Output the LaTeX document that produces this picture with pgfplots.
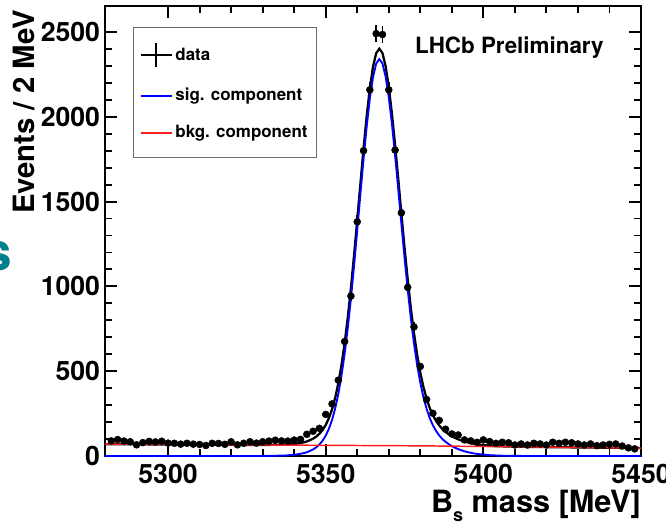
\documentclass[border=0pt]{standalone}
\usepackage{fontspec}
\setmainfont{TeX Gyre Heros}
\usepackage{pgfplots}
\usepackage{pgfplotstable}
\pgfplotsset{compat=1.18}

\definecolor{rootblue}{RGB}{0,0,255}
\definecolor{rootred}{RGB}{255,30,30}
\definecolor{legframe}{RGB}{110,110,110}
\definecolor{slideteal}{RGB}{0,128,140}

% binned data: bin centre, entries, error
\pgfplotstableread{
m n e
5282 89 9.4
5284 97 9.8
5286 88 9.4
5288 84 9.2
5290 66 8.1
5292 79 8.9
5294 86 9.3
5296 83 9.1
5298 87 9.3
5300 76 8.7
5302 75 8.7
5304 70 8.4
5306 75 8.7
5308 70 8.4
5310 68 8.2
5312 62 7.9
5314 75 8.7
5316 74 8.6
5318 69 8.3
5320 84 9.2
5322 66 8.1
5324 75 8.7
5326 84 9.2
5328 76 8.7
5330 84 9.2
5332 88 9.4
5334 93 9.6
5336 89 9.4
5338 88 9.4
5340 94 9.7
5342 98 9.9
5344 128 11.3
5346 146 12.1
5348 163 12.8
5350 245 15.7
5352 307 17.5
5354 447 21.1
5356 675 26.0
5358 943 30.7
5360 1381 37.2
5362 1800 42.4
5364 2159 46.5
5366 2490 50.0
5368 2485 50.0
5370 2159 46.5
5372 1804 42.5
5374 1434 37.9
5376 994 31.5
5378 761 27.6
5380 528 23.0
5382 333 18.2
5384 252 15.9
5386 210 14.5
5388 158 12.6
5390 130 11.4
5392 124 11.1
5394 95 9.7
5396 89 9.4
5398 81 9.0
5400 95 9.7
5402 85 9.2
5404 75 8.7
5406 81 9.0
5408 78 8.8
5410 65 8.1
5412 71 8.4
5414 65 8.1
5416 75 8.7
5418 71 8.4
5420 65 8.1
5422 81 9.0
5424 75 8.7
5426 81 9.0
5428 78 8.8
5430 71 8.4
5432 65 8.1
5434 71 8.4
5436 61 7.8
5438 65 8.1
5440 69 8.3
5442 71 8.4
5444 59 7.7
5446 48 6.9
5448 42 6.5
}\bsdata

% signal component
\pgfplotstableread{
m s
5280 0
5327 0
5332 0.6
5337 3
5340 7
5342 13
5343 17
5344 22
5345 30
5346 39
5347 51
5348 68
5349 90
5350 120
5351 160
5352 212
5353 280
5354 366
5355 473
5356 602
5357 755
5358 929
5359 1123
5360 1331
5361 1543
5362 1751
5363 1943
5364 2107
5365 2233
5366 2313
5367 2340
5368 2314
5369 2237
5370 2116
5371 1958
5372 1774
5373 1574
5374 1369
5375 1169
5376 982
5377 812
5378 664
5379 537
5380 432
5381 346
5382 278
5383 223
5384 181
5385 148
5386 121
5387 100
5388 84
5389 70
5390 58
5391 49
5392 41
5393 34
5394 28
5395 23
5397 15
5399 10
5402 5
5405 2.3
5409 0.8
5414 0.2
5420 0
5450 0
}\sigcurve

% total fit
\pgfplotstableread{
m t
5280 70
5300 68
5320 66
5327 65.3
5332 65.4
5337 67.3
5340 71
5342 76.8
5343 80.7
5344 85.6
5345 93.5
5346 102.4
5347 114.3
5348 131.2
5349 153.1
5350 183
5351 222.9
5352 274.8
5353 342.7
5354 428.6
5355 535.5
5356 664.4
5357 817.3
5358 991.2
5359 1185.1
5360 1393
5361 1604.9
5362 1812.8
5363 2004.7
5364 2168.6
5365 2294.5
5366 2374.4
5367 2401.3
5368 2375.2
5369 2298.1
5370 2177
5371 2018.9
5372 1834.8
5373 1634.7
5374 1429.6
5375 1229.5
5376 1042.4
5377 872.3
5378 724.2
5379 597.1
5380 492
5381 405.8
5382 337.6
5383 282.4
5384 240.2
5385 207
5386 179.9
5387 158.7
5388 142.5
5389 128.3
5390 116.1
5391 106.9
5392 98.7
5393 91.5
5394 85.3
5395 80.2
5397 71.8
5399 66.4
5402 60.8
5405 57.6
5409 55.3
5414 53.7
5420 52.4
5430 50.5
5440 48.6
5450 46.7
}\totcurve

% background component
\pgfplotstableread{
m b
5280 70
5330 65
5380 60
5400 56.2
5420 52.4
5450 46.7
}\bkgcurve

\begin{document}
\begin{tikzpicture}
\begin{axis}[
    name=ax,
    scale only axis,
    width=402pt, height=337.5pt,
    xmin=5280, xmax=5450,
    ymin=0, ymax=2653,
    xtick={5300,5350,5400,5450},
    ytick={0,500,1000,1500,2000,2500},
    minor x tick num=4,
    minor y tick num=4,
    tick align=inside,
    major tick length=9pt,
    minor tick length=5pt,
    axis line style={line width=1.5pt},
    every tick/.style={black, line width=1.4pt},
    scaled ticks=false,
    /pgf/number format/assume math mode=true,
    /pgf/number format/1000 sep={},
    tick label style={font=\bfseries\fontsize{20}{22}\selectfont, inner sep=1pt},
    xticklabel style={yshift=-5pt},
    yticklabel style={xshift=-2.5pt},
    xlabel={B\raisebox{-0.3em}{\fontsize{13.5}{13.5}\selectfont s} mass [MeV]},
    xlabel style={at={(axis description cs:1,-0.126)}, anchor=base east,
                  inner sep=0pt, font=\bfseries\fontsize{23}{25}\selectfont},
    ylabel={Events / 2 MeV},
    ylabel style={at={(axis description cs:-0.1306,0.991)}, anchor=south east,
                  inner sep=0pt, font=\bfseries\fontsize{22}{26}\selectfont},
    legend cell align=left,
    legend style={at={(0.052,0.953)}, anchor=north west,
                  draw=legframe, line width=0.8pt, fill=white,
                  font=\bfseries\fontsize{12.7}{14}\selectfont,
                  row sep=13pt, inner xsep=5pt, inner ysep=11pt},
]
\addplot[black, only marks, mark=*, mark size=2.6pt, forget plot,
         error bars/.cd, y dir=both, y explicit, x dir=both, x fixed=1,
         error mark=none, error bar style={line width=1.3pt, black}]
    table[x=m, y=n, y error=e] {\bsdata};
\addplot[black, line width=1.7pt, forget plot] table[x=m, y=t] {\totcurve};
\addplot[rootblue, line width=1.4pt, forget plot] table[x=m, y=s] {\sigcurve};
\addplot[rootred, line width=1.1pt, forget plot] table[x=m, y=b] {\bkgcurve};

\addlegendimage{legend image code/.code={
    \draw[black, line width=1.4pt] (0pt,0pt) -- (23pt,0pt)
         (11.5pt,-9pt) -- (11.5pt,9pt);}}
\addlegendentry{data}
\addlegendimage{legend image code/.code={
    \draw[draw=rootblue, line width=1.5pt] (0pt,0pt) -- (23pt,0pt);}}
\addlegendentry{sig. component}
\addlegendimage{legend image code/.code={
    \draw[draw=rootred, line width=1.5pt] (0pt,0pt) -- (23pt,0pt);}}
\addlegendentry{bkg. component}

\node[anchor=west, inner sep=0pt, font=\bfseries\fontsize{16.8}{18}\selectfont]
    at (rel axis cs:0.578,0.907) {LHCb Preliminary};
\end{axis}
\node[anchor=east, inner sep=0pt, text=slideteal,
      font=\bfseries\fontsize{40}{40}\selectfont]
    at ([xshift=-69.75pt, yshift=150pt]ax.south west) {s};
\pgfresetboundingbox
\path[use as bounding box]
    ([xshift=-78.75pt, yshift=-52.5pt]ax.south west)
    rectangle ([xshift=18.75pt, yshift=4.5pt]ax.north east);
\end{tikzpicture}
\end{document}
